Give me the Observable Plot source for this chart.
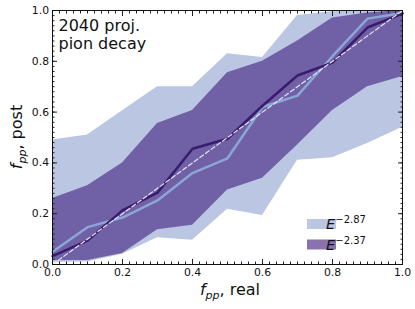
<!DOCTYPE html>
<html><head><meta charset="utf-8">
<script src="https://cdn.jsdelivr.net/npm/d3@7"></script>
<script src="https://cdn.jsdelivr.net/npm/@observablehq/plot@0.6"></script>
<style>
body{margin:0;background:#fff;}
#chart{width:415px;height:309px;}
svg{font-family:"DejaVu Sans",sans-serif;}
</style></head><body><div id="chart"></div>
<script>
// f_pp real values
const fReal = [0, 0.1, 0.2, 0.3, 0.4, 0.5, 0.6, 0.7, 0.8, 0.9, 1.0];
// E^-2.87 (light blue)
const softLo  = [0.008, 0.01, 0.04, 0.105, 0.095, 0.218, 0.193, 0.41, 0.42, 0.476, 0.54];
const softHi  = [0.49, 0.51, 0.605, 0.70, 0.70, 0.83, 0.815, 0.98, 0.995, 1.0, 1.0];
const softMed = [0.05, 0.147, 0.185, 0.252, 0.36, 0.418, 0.62, 0.665, 0.82, 0.968, 0.99];
// E^-2.37 (purple)
const hardLo  = [0.016, 0.016, 0.043, 0.137, 0.155, 0.293, 0.34, 0.47, 0.606, 0.70, 0.74];
const hardHi  = [0.26, 0.31, 0.40, 0.555, 0.606, 0.755, 0.80, 0.88, 0.97, 0.99, 1.0];
const hardMed = [0.033, 0.094, 0.213, 0.283, 0.456, 0.495, 0.625, 0.744, 0.795, 0.933, 0.988];
// diagonal
const diag = [0, 1];
const majorTicks = [0, 0.2, 0.4, 0.6, 0.8, 1.0];
const minorTicks = d3.range(0, 1.0001, 0.02);
const legendLabels = ["\u22122.87", "\u22122.37"];
const annotation = ["2040 proj.\npion decay"];

const soft = fReal.map((x, i) => ({x, lo: softLo[i], hi: softHi[i], med: softMed[i]}));
const hard = fReal.map((x, i) => ({x, lo: hardLo[i], hi: hardHi[i], med: hardMed[i]}));

const lightBlue = "#bac6e2";
const purple = "#4a2a86";
const purpleOp = 0.66;

const tickAxes = [];
for (const [ticks, size] of [[majorTicks, -5], [minorTicks, -2.5]]) {
  tickAxes.push(Plot.axisX(ticks, {anchor: "bottom", tickSize: size, tickFormat: () => "", label: null, stroke: "#222"}));
  tickAxes.push(Plot.axisX(ticks, {anchor: "top", tickSize: size, tickFormat: () => "", label: null, stroke: "#222"}));
  tickAxes.push(Plot.axisY(ticks, {anchor: "left", tickSize: size, tickFormat: () => "", label: null, stroke: "#222"}));
  tickAxes.push(Plot.axisY(ticks, {anchor: "right", tickSize: size, tickFormat: () => "", label: null, stroke: "#222"}));
}

const chart = Plot.plot({
  width: 415, height: 309,
  marginLeft: 52, marginRight: 13, marginTop: 10, marginBottom: 45,
  x: {domain: [0, 1]},
  y: {domain: [0, 1]},
  style: {fontFamily: "DejaVu Sans, sans-serif", background: "#fff"},
  marks: [
    Plot.areaY(soft, {x: "x", y1: "lo", y2: "hi", fill: lightBlue}),
    Plot.areaY(hard, {x: "x", y1: "lo", y2: "hi", fill: purple, fillOpacity: purpleOp}),
    Plot.line(soft, {x: "x", y: "med", stroke: "#8aa7d6", strokeWidth: 2.5}),
    Plot.line(hard, {x: "x", y: "med", stroke: "#3a1c6e", strokeWidth: 2.5}),
    Plot.line(diag, {x: d => d, y: d => d, stroke: "#e8e2f0", strokeWidth: 1.2, strokeDasharray: "4.5,2.5"}),
    ...tickAxes,
    Plot.axisX(majorTicks, {anchor: "bottom", tickSize: 0, tickPadding: 4, tickFormat: d3.format(".1f"), label: null, fontSize: 10.8, fill: "#111"}),
    Plot.axisY(majorTicks, {anchor: "left", tickSize: 0, tickPadding: 3.5, tickFormat: d3.format(".1f"), label: null, fontSize: 10.8, fill: "#111"}),
    Plot.frame({stroke: "#111", strokeWidth: 1}),
    Plot.text(annotation, {text: d => d, frameAnchor: "top-left", dx: 6, dy: 7, lineAnchor: "top", textAnchor: "start", fontSize: 16, lineHeight: 1.15, fill: "#111"})
  ]
});

const svg = d3.select(chart);
const xs = chart.scale("x"), ys = chart.scale("y");

// x axis label
const xl = svg.append("text")
  .attr("x", xs.apply(0.5) + 3).attr("y", 295)
  .attr("text-anchor", "middle").attr("font-size", 16).attr("fill", "#111");
xl.append("tspan").attr("font-style", "italic").text("f");
xl.append("tspan").attr("font-style", "italic").attr("font-size", 11).attr("dy", 4).text("pp");
xl.append("tspan").attr("dy", -4).text(", real");

// y axis label
const yl = svg.append("text")
  .attr("transform", `translate(22,${ys.apply(0.5)}) rotate(-90)`)
  .attr("text-anchor", "middle").attr("font-size", 16).attr("fill", "#111");
yl.append("tspan").attr("font-style", "italic").text("f");
yl.append("tspan").attr("font-style", "italic").attr("font-size", 11).attr("dy", 4).text("pp");
yl.append("tspan").attr("dy", -4).text(", post");

// legend
const lg = svg.append("g");
const swatch = [{fill: lightBlue, op: 1}, {fill: purple, op: purpleOp}];
legendLabels.forEach((lab, i) => {
  const y0 = 219 + i * 20.5;
  lg.append("rect").attr("x", 307).attr("y", y0).attr("width", 29).attr("height", 10)
    .attr("fill", swatch[i].fill).attr("fill-opacity", swatch[i].op);
  const t = lg.append("text").attr("x", 346).attr("y", y0 + 10).attr("font-size", 14.5).attr("fill", "#111");
  t.append("tspan").attr("font-style", "italic").text("E");
  t.append("tspan").attr("font-size", 10).attr("dy", -6).text(lab);
});

document.getElementById("chart").appendChild(chart);
</script>
</body></html>
